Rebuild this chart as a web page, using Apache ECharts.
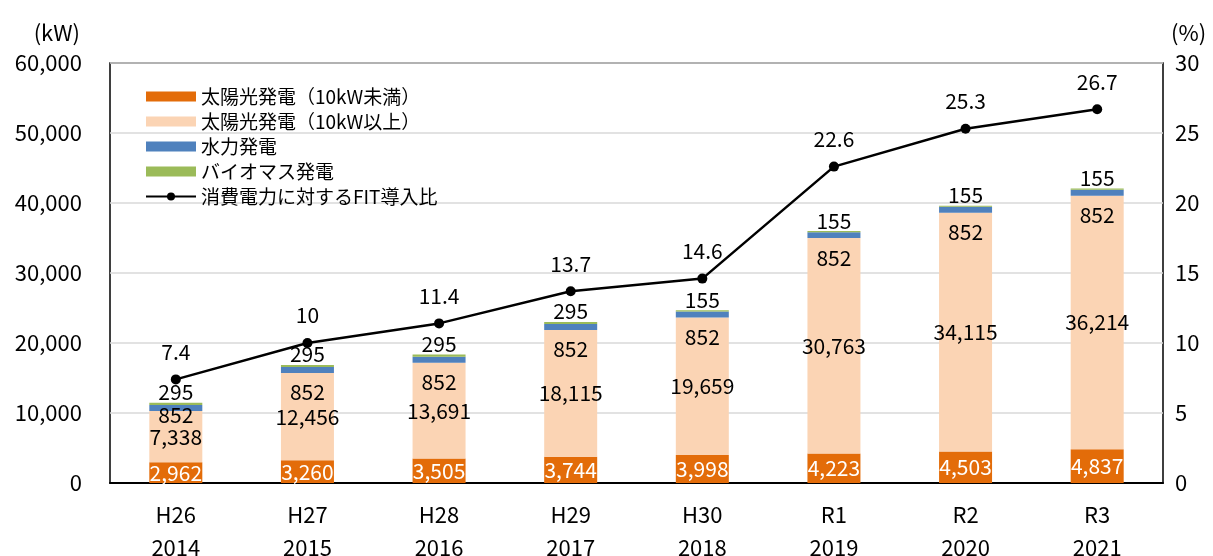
<!DOCTYPE html>
<html>
<head>
<meta charset="utf-8">
<script src="https://cdn.jsdelivr.net/npm/echarts@6/dist/echarts.min.js"></script>
<style>
  html, body { margin: 0; padding: 0; background: #fff; }
  #chart { width: 1213px; height: 556px; }
</style>
</head>
<body>
<div id="chart"></div>
<script>
const eras = ['H26', 'H27', 'H28', 'H29', 'H30', 'R1', 'R2', 'R3']
const years = ['2014', '2015', '2016', '2017', '2018', '2019', '2020', '2021']
const solarSmall = [2962, 3260, 3505, 3744, 3998, 4223, 4503, 4837]
const solarLarge = [7338, 12456, 13691, 18115, 19659, 30763, 34115, 36214]
const hydro = [852, 852, 852, 852, 852, 852, 852, 852]
const biomass = [295, 295, 295, 295, 155, 155, 155, 155]
const fitRatio = [7.4, 10, 11.4, 13.7, 14.6, 22.6, 25.3, 26.7]

const categories = eras.map((e, i) => e + '\n' + years[i])
const fmt = (p) => Number(p.value).toLocaleString('en-US')
const font = "'Noto Sans CJK JP', 'Noto Sans', sans-serif"

const chart = echarts.init(document.getElementById('chart'))

const option = {
  textStyle: { fontFamily: font, color: '#000' },
  animation: false,
  grid: {
    left: 110,
    right: 50,
    top: 63,
    bottom: 73,
    outerBoundsMode: 'none',
    containLabel: false,
    show: true,
    borderColor: '#000',
    borderWidth: 1.5
  },
  legend: {
    orient: 'vertical',
    left: 140,
    top: 82,
    itemWidth: 50,
    itemHeight: 10,
    itemGap: 6,
    textStyle: { fontSize: 19, color: '#000', fontFamily: font },
    data: [
      { name: '太陽光発電（10kW未満）', icon: 'rect' },
      { name: '太陽光発電（10kW以上）', icon: 'rect' },
      { name: '水力発電', icon: 'rect' },
      { name: 'バイオマス発電', icon: 'rect' },
      { name: '消費電力に対するFIT導入比' }
    ]
  },
  xAxis: {
    type: 'category',
    data: categories,
    axisTick: { show: false },
    axisLine: { lineStyle: { color: '#000', width: 2 } },
    axisLabel: { fontSize: 22, lineHeight: 33, margin: 15, color: '#000' }
  },
  yAxis: [
    {
      type: 'value',
      min: 0,
      max: 60000,
      interval: 10000,
      name: '(kW)',
      nameLocation: 'end',
      nameGap: 19,
      nameTextStyle: { fontSize: 22, color: '#000', align: 'right', padding: [0, 30, 0, 0] },
      axisLine: { show: false },
      axisTick: { show: false },
      axisLabel: {
        fontSize: 22,
        margin: 28,
        color: '#000',
        formatter: (v) => v.toLocaleString('en-US')
      },
      splitLine: { lineStyle: { color: '#d9d9d9', width: 1.5 } }
    },
    {
      type: 'value',
      min: 0,
      max: 30,
      interval: 5,
      name: '(%)',
      nameLocation: 'end',
      nameGap: 19,
      nameTextStyle: { fontSize: 22, color: '#000', align: 'left', padding: [0, 0, 0, 8] },
      axisLine: { show: false },
      axisTick: { show: false },
      axisLabel: { fontSize: 22, margin: 12, color: '#000' },
      splitLine: { show: false }
    }
  ],
  series: [
    {
      name: '太陽光発電（10kW未満）',
      type: 'bar',
      stack: 'total',
      barWidth: 53,
      itemStyle: { color: '#E36C09' },
      label: { show: true, position: 'inside', color: '#fff', fontSize: 21, formatter: fmt },
      data: solarSmall
    },
    {
      name: '太陽光発電（10kW以上）',
      type: 'bar',
      stack: 'total',
      itemStyle: { color: '#FBD4B4' },
      label: { show: true, position: 'inside', color: '#000', fontSize: 21, formatter: fmt },
      data: solarLarge
    },
    {
      name: '水力発電',
      type: 'bar',
      stack: 'total',
      itemStyle: { color: '#4F81BD' },
      label: { show: true, position: 'bottom', distance: 9, color: '#000', fontSize: 21, formatter: fmt },
      data: hydro.map((v, i) => (i === 0 ? { value: v, label: { distance: -6 } } : v))
    },
    {
      name: 'バイオマス発電',
      type: 'bar',
      stack: 'total',
      itemStyle: { color: '#9BBB59' },
      label: { show: true, position: 'top', distance: 0, color: '#000', fontSize: 21, formatter: fmt },
      data: biomass
    },
    {
      name: '消費電力に対するFIT導入比',
      type: 'line',
      yAxisIndex: 1,
      symbol: 'circle',
      symbolSize: 10,
      itemStyle: { color: '#000' },
      lineStyle: { color: '#000', width: 2.5 },
      label: { show: true, position: 'top', distance: 12, color: '#000', fontSize: 21 },
      data: fitRatio
    }
  ]
}

chart.setOption(option)
window.addEventListener('resize', () => chart.resize())
</script>
</body>
</html>
